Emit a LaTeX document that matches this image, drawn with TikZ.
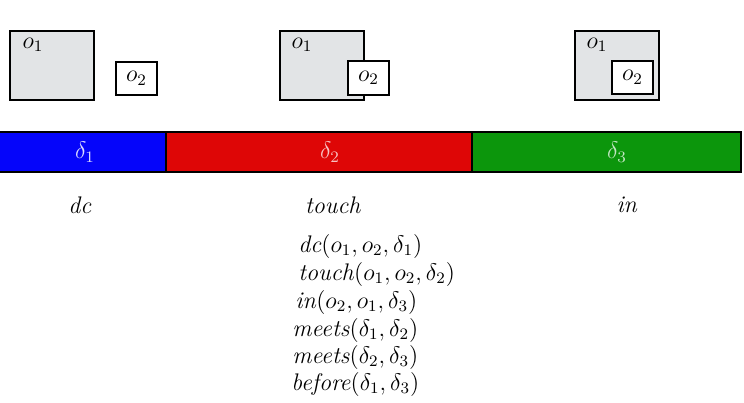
\documentclass[tikz,border=0pt]{standalone}
\usepackage{amsmath, amssymb}
\usepackage{tikz}
\usetikzlibrary{positioning}

\definecolor{barblue}{RGB}{5,5,250}
\definecolor{barred}{RGB}{222,6,6}
\definecolor{bargreen}{RGB}{12,150,12}
\definecolor{objgray}{RGB}{226,228,230}

\tikzset{
  objbig/.style={draw=black,line width=1pt,fill=objgray},
  objsmall/.style={draw=black,line width=1pt,fill=white},
  objlabel/.style={font=\large},
  interval/.style={draw=black,line width=1pt},
  rel/.style={anchor=west,inner sep=0pt,font=\large}
}

\begin{document}
\begin{tikzpicture}[x=0.5pt,y=-0.5pt]

\useasboundingbox (0,0) rectangle (744,402);

% ============================
% OBJECTS (THREE SNAPSHOTS)
% ============================

% dc: apart
\draw[objbig] (10,31) rectangle (94,100);
\node[objlabel] (o1a) at (33,45) {$o_1$};
\draw[objsmall] (116,62) rectangle (157,95);
\node[objlabel] (o2a) at (136.5,78.5) {$o_2$};

% touch: sharing an edge region
\draw[objbig] (280,31) rectangle (364,100);
\node[objlabel] (o1b) at (302,45) {$o_1$};
\draw[objsmall] (348,61) rectangle (389,95);
\node[objlabel] (o2b) at (368.5,78) {$o_2$};

% in: o2 inside o1
\draw[objbig] (575,31) rectangle (659,100);
\node[objlabel] (o1c) at (597,45) {$o_1$};
\draw[objsmall] (612,61) rectangle (653,94);
\node[objlabel] (o2c) at (632.5,77.5) {$o_2$};

% ============================
% TIME LINE (INTERVALS)
% ============================

\fill[barblue] (0,132) rectangle (166,172);
\fill[barred] (166,132) rectangle (472,172);
\fill[bargreen] (472,132) rectangle (741,172);
\draw[interval] (-2,132) rectangle (741,172);
\draw[interval] (166,132) -- (166,172);
\draw[interval] (472,132) -- (472,172);

\node[text=barblue!15!white] (d1) at (85,152) {\large $\delta_1$};
\node[text=barred!25!white] (d2) at (330,152) {\large $\delta_2$};
\node[text=bargreen!25!white] (d3) at (617,152) {\large $\delta_3$};

% ============================
% RELATION NAMES
% ============================

\node[font=\large] (ndc) at (80,205) {\textit{dc}};
\node[font=\large] (ntouch) at (333,205) {\textit{touch}};
\node[font=\large] (nin) at (627,205) {\textit{in}};

% ============================
% FACTS
% ============================

\node[rel] (f1) at (298,246) {\textit{dc}$(o_1,o_2,\delta_1)$};
\node[rel] (f2) at (298,274) {\textit{touch}$(o_1,o_2,\delta_2)$};
\node[rel] (f3) at (295,302) {\textit{in}$(o_2,o_1,\delta_3)$};
\node[rel] (f4) at (292,330) {\textit{meets}$(\delta_1,\delta_2)$};
\node[rel] (f5) at (292,357) {\textit{meets}$(\delta_2,\delta_3)$};
\node[rel] (f6) at (291,384) {\textit{before}$(\delta_1,\delta_3)$};

\end{tikzpicture}
\end{document}
